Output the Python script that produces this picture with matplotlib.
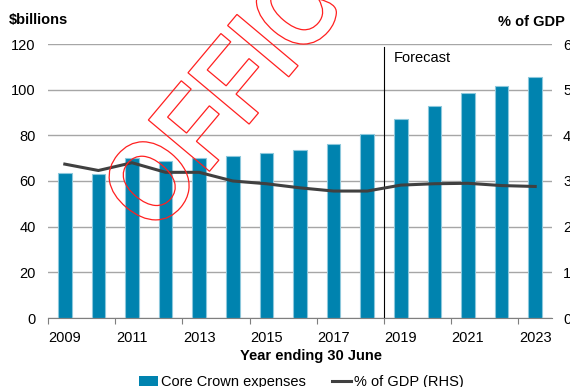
import numpy as np
import matplotlib
matplotlib.use('Agg')
import matplotlib.pyplot as plt
from matplotlib.lines import Line2D
from matplotlib.patches import Patch, PathPatch
from matplotlib.textpath import TextPath
from matplotlib.font_manager import FontProperties
from matplotlib.transforms import Affine2D

plt.rcParams['font.family'] = ['Liberation Sans', 'DejaVu Sans']
plt.rcParams['font.size'] = 10

years = [2009, 2010, 2011, 2012, 2013, 2014, 2015, 2016,
         2017, 2018, 2019, 2020, 2021, 2022, 2023]
expenses = [63.5, 63.2, 70.0, 68.6, 70.0, 71.0, 72.1, 73.6,
            76.2, 80.6, 87.2, 93.0, 98.7, 101.6, 105.6]
pct_gdp = [3.37, 3.23, 3.40, 3.19, 3.19, 3.00, 2.94, 2.85,
           2.78, 2.78, 2.91, 2.94, 2.95, 2.90, 2.88]
left_ticks = [0, 20, 40, 60, 80, 100, 120]
right_ticks = [0, 1, 2, 3, 4, 5, 6]

BAR = '#0083AF'
LINE = '#404040'

fig = plt.figure(figsize=(5.7, 3.87), dpi=100)
ax = fig.add_axes([48/570, 1 - 318/387, 504/570, 274/387])
x = np.arange(len(years))

ax.bar(x, expenses, width=0.4, color=BAR, edgecolor='#8CC8DC', linewidth=0.8, zorder=2)
ax.set_xlim(-0.5, len(years) - 0.5)
ax.set_ylim(0, 120)
ax.set_yticks(left_ticks)
ax.yaxis.grid(True, color='#A6A6A6', linewidth=1, zorder=0)
ax.set_axisbelow(True)
ax.tick_params(axis='y', length=0, pad=9, labelsize=10.5)

# ticks at category boundaries, labels on every other year
ax.set_xticks(np.arange(-0.5, len(years) - 0.5, 2))
ax.set_xticklabels([])
ax.set_xticks(x[::2], minor=True)
ax.set_xticklabels([str(y) for y in years[::2]], minor=True)
ax.tick_params(axis='x', which='major', length=4, color='#7F7F7F')
ax.tick_params(axis='x', which='minor', length=0, pad=9, labelsize=10.5)

for s in ['left', 'right', 'top']:
    ax.spines[s].set_visible(False)
ax.spines['bottom'].set_color('#7F7F7F')

# forecast divider
ax.plot([9.5, 9.5], [0, 118.7], color='black', linewidth=0.8, zorder=3)
ax.text(9.8, 114, 'Forecast', fontsize=10.5, va='center', ha='left')

ax2 = ax.twinx()
ax2.plot(x, pct_gdp, color=LINE, linewidth=2.2, zorder=4)
ax2.set_ylim(0, 6)
ax2.set_yticks(right_ticks)
ax2.tick_params(axis='y', length=0, pad=8, labelsize=10.5)
for s in ['left', 'right', 'top', 'bottom']:
    ax2.spines[s].set_visible(False)

fig.text(9/570, 1 - 20/387, '$billions', fontsize=10.5, fontweight='bold', va='center', ha='left')
fig.text(498/570, 1 - 22/387, '% of GDP', fontsize=10.5, fontweight='bold', va='center', ha='left')
fig.text(311/570, 1 - 356/387, 'Year ending 30 June', fontsize=10.5, fontweight='bold',
         va='center', ha='center')

handles = [Patch(facecolor=BAR, edgecolor='none'),
           Line2D([0], [0], color=LINE, linewidth=2.2)]
fig.legend(handles, ['Core Crown expenses', '% of GDP (RHS)'], loc='center',
           bbox_to_anchor=(301/570, 1 - 382/387), ncol=2, frameon=False,
           fontsize=10.5, handlelength=1.3, handletextpad=0.2, columnspacing=1.8,
           borderpad=0)

# red outlined stamp across the chart (slightly condensed, in pixel coords)
stamp = TextPath((0, 0), 'OFFICIAL', size=116,
                 prop=FontProperties(family='Liberation Sans', weight='bold'))
tr = Affine2D().scale(0.87, 1).rotate_deg(50).translate(154.7, 387 - 236.6)
fig.add_artist(PathPatch(stamp, transform=tr, facecolor='none',
                         edgecolor='#FF2020', linewidth=0.9, zorder=10))

fig.savefig('out.png', dpi=100)
